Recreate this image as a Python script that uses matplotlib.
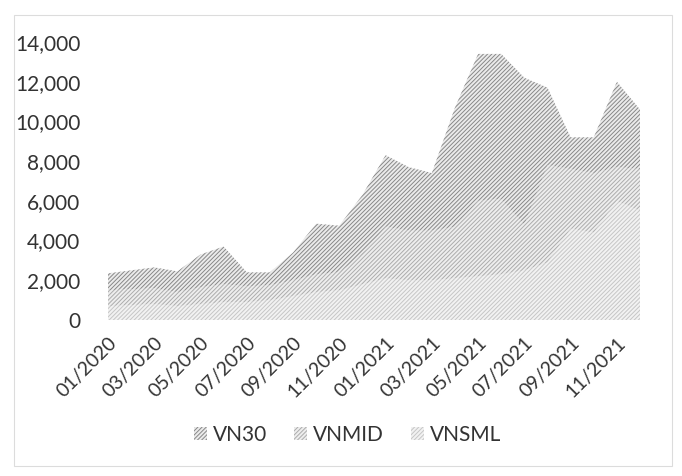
import matplotlib
matplotlib.use('Agg')
import matplotlib.pyplot as plt
from matplotlib.patches import Patch, Rectangle
from matplotlib.ticker import FuncFormatter

# monthly values, 01/2020 .. 12/2021
months = ['01/2020', '02/2020', '03/2020', '04/2020', '05/2020', '06/2020',
          '07/2020', '08/2020', '09/2020', '10/2020', '11/2020', '12/2020',
          '01/2021', '02/2021', '03/2021', '04/2021', '05/2021', '06/2021',
          '07/2021', '08/2021', '09/2021', '10/2021', '11/2021', '12/2021']
vn30 = [2350, 2500, 2650, 2450, 3300, 3700, 2400, 2400, 3400, 4850, 4750, 6300,
        8300, 7700, 7400, 10700, 13400, 13400, 12200, 11700, 9200, 9200, 12000, 10600]
vnmid = [1500, 1550, 1600, 1400, 1650, 1800, 1700, 1750, 2000, 2300, 2400, 3300,
         4700, 4500, 4500, 4700, 6000, 6100, 4800, 7800, 7600, 7400, 7700, 7600]
vnsml = [700, 750, 800, 700, 800, 900, 900, 1000, 1200, 1400, 1500, 1800,
         2100, 2000, 2000, 2100, 2200, 2300, 2500, 2900, 4600, 4400, 6000, 5500]

series = [
    ('VN30', vn30, '#ebebeb', '#888888'),
    ('VNMID', vnmid, '#eeeeee', '#acacac'),
    ('VNSML', vnsml, '#f2f2f2', '#c6c6c6'),
]

plt.rcParams['font.family'] = ['Lato', 'DejaVu Sans']
plt.rcParams['hatch.linewidth'] = 0.7

fig = plt.figure(figsize=(6.82, 4.76), dpi=100)
fig.patch.set_facecolor('white')
ax = fig.add_axes([108 / 682, 1 - 320 / 476, 532 / 682, 278 / 476])

x = list(range(len(months)))
hatch = '////////'
handles = []
for name, vals, face, hcol in series:
    ax.fill_between(x, 0, vals, facecolor=face, edgecolor=hcol,
                    hatch=hatch, linewidth=0)
    handles.append(Patch(facecolor=face, edgecolor=hcol, hatch=hatch,
                         linewidth=0, label=name))

ax.set_xlim(0, len(months) - 1)
ax.set_ylim(0, 14000)
ax.set_yticks(range(0, 14001, 2000))
ax.yaxis.set_major_formatter(FuncFormatter(lambda v, p: f'{int(v):,}'))
ax.set_xticks(x[::2])
ax.set_xticklabels(months[::2], rotation=45, ha='right',
                   rotation_mode='anchor')
ax.tick_params(axis='both', length=0, labelsize=15, colors='#333333')
ax.tick_params(axis='x', pad=10, labelsize=14)
ax.tick_params(axis='y', pad=20)
for s in ax.spines.values():
    s.set_visible(False)

fig.legend(handles=handles, loc='center', bbox_to_anchor=(0.51, 1 - 435 / 476),
           ncol=3, frameon=False, fontsize=15, handlelength=0.6,
           handleheight=0.6, handletextpad=0.3, columnspacing=1.3,
           labelcolor='#333333')

# chart area border
fig.patches.append(Rectangle((14 / 682, 1 - 466 / 476), 658 / 682, 451 / 476,
                             transform=fig.transFigure, fill=False,
                             edgecolor='#dcdcdc', linewidth=0.8))

fig.savefig('out.png', dpi=100, facecolor='white')
